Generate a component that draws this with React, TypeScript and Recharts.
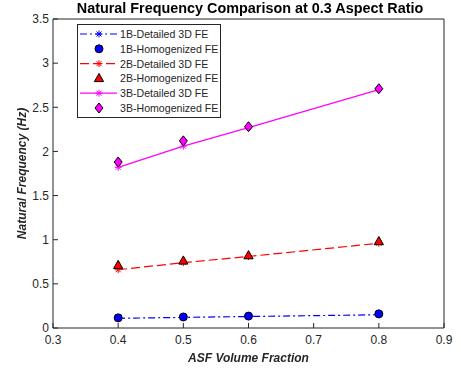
import React from 'react';
import { ComposedChart, Line, XAxis, YAxis } from 'recharts';

// ASF volume fractions where the models were run
const fractions = [0.4, 0.5, 0.6, 0.8];

// natural frequencies in Hz
const detailed1B = [0.11, 0.12, 0.13, 0.15];
const homog1B = [0.115, 0.125, 0.135, 0.16];
const detailed2B = [0.66, 0.74, 0.81, 0.96];
const homog2B = [0.71, 0.76, 0.82, 0.98];
const detailed3B = [1.82, 2.06, 2.27, 2.7];
const homog3B = [1.88, 2.12, 2.28, 2.71];

const xTicks = [0.3, 0.4, 0.5, 0.6, 0.7, 0.8, 0.9];
const yTicks = [0, 0.5, 1, 1.5, 2, 2.5, 3, 3.5];

const legendNames = [
  '1B-Detailed 3D FE',
  '1B-Homogenized FE',
  '2B-Detailed 3D FE',
  '2B-Homogenized FE',
  '3B-Detailed 3D FE',
  '3B-Homogenized FE',
];

const rows = fractions.map((x, i) => ({
  x,
  d1: detailed1B[i],
  h1: homog1B[i],
  d2: detailed2B[i],
  h2: homog2B[i],
  d3: detailed3B[i],
  h3: homog3B[i],
}));

const AXIS = '#262626';
const FONT = '"Liberation Sans", Arial, Helvetica, sans-serif';

// marker shapes, MATLAB style
const Asterisk = ({ cx, cy, color }: any) => (
  <g stroke={color} strokeWidth={1}>
    <line x1={cx - 3.5} y1={cy} x2={cx + 3.5} y2={cy} />
    <line x1={cx} y1={cy - 3.5} x2={cx} y2={cy + 3.5} />
    <line x1={cx - 2.5} y1={cy - 2.5} x2={cx + 2.5} y2={cy + 2.5} />
    <line x1={cx - 2.5} y1={cy + 2.5} x2={cx + 2.5} y2={cy - 2.5} />
  </g>
);

const Circle = ({ cx, cy }: any) => (
  <circle cx={cx} cy={cy} r={4} fill="#0000ff" stroke="#000" strokeWidth={1} />
);

const Triangle = ({ cx, cy }: any) => (
  <polygon
    points={`${cx},${cy - 5} ${cx + 4.6},${cy + 3.2} ${cx - 4.6},${cy + 3.2}`}
    fill="#ff0000"
    stroke="#000"
    strokeWidth={1}
  />
);

const Diamond = ({ cx, cy }: any) => (
  <polygon
    points={`${cx},${cy - 5} ${cx + 4},${cy} ${cx},${cy + 5} ${cx - 4},${cy}`}
    fill="#ff00ff"
    stroke="#000"
    strokeWidth={1}
  />
);

const dotOf = (Shape: any, color?: string) => (p: any) =>
  <Shape key={`${p.dataKey}-${p.index}`} cx={p.cx} cy={p.cy} color={color} />;

const legendItems = [
  { line: '#0000ff', dash: '7 3 2 3', Shape: Asterisk, color: '#0000ff' },
  { line: null, dash: '', Shape: Circle, color: '' },
  { line: '#ff0000', dash: '9 4', Shape: Asterisk, color: '#ff0000' },
  { line: null, dash: '', Shape: Triangle, color: '' },
  { line: '#ff00ff', dash: '', Shape: Asterisk, color: '#ff00ff' },
  { line: null, dash: '', Shape: Diamond, color: '' },
];

function ChartLegend() {
  const rowH = 14.8;
  return (
    <svg
      width={144}
      height={94}
      style={{ position: 'absolute', left: 77, top: 24 }}
    >
      <rect x={0.5} y={0.5} width={143} height={93} fill="#fff" stroke={AXIS} strokeWidth={1} />
      {legendItems.map((it, i) => {
        const cy = 10 + i * rowH;
        return (
          <g key={i}>
            {it.line && (
              <line
                x1={3}
                x2={40}
                y1={cy}
                y2={cy}
                stroke={it.line}
                strokeWidth={1.2}
                strokeDasharray={it.dash || undefined}
              />
            )}
            <it.Shape cx={22} cy={cy} color={it.color} />
            <text x={43} y={cy + 4} fontSize={10.6} fontFamily={FONT} fill={AXIS}>
              {legendNames[i]}
            </text>
          </g>
        );
      })}
    </svg>
  );
}

export default function App() {
  return (
    <div style={{ position: 'fixed', left: 0, top: 0, width: 461, height: 371, background: '#fff' }}>
      <ComposedChart
        width={461}
        height={371}
        data={rows}
        margin={{ top: 18, right: 16, bottom: 42, left: 52 }}
      >
        <XAxis
          dataKey="x"
          type="number"
          domain={[0.3, 0.9]}
          ticks={xTicks}
          interval={0}
          height={1}
          stroke={AXIS}
          tickSize={-5}
          tickMargin={12}
          tick={{ fill: AXIS, fontSize: 12, fontFamily: FONT }}
        />
        <XAxis
          xAxisId="top"
          orientation="top"
          dataKey="x"
          type="number"
          domain={[0.3, 0.9]}
          ticks={xTicks}
          interval={0}
          height={1}
          stroke={AXIS}
          tickSize={-5}
          tick={false}
        />
        <YAxis
          type="number"
          domain={[0, 3.5]}
          ticks={yTicks}
          interval={0}
          width={1}
          stroke={AXIS}
          tickSize={-5}
          tickMargin={9}
          tick={{ fill: AXIS, fontSize: 12, fontFamily: FONT }}
        />
        <YAxis
          yAxisId="right"
          orientation="right"
          type="number"
          domain={[0, 3.5]}
          ticks={yTicks}
          interval={0}
          width={1}
          stroke={AXIS}
          tickSize={-5}
          tick={false}
        />
        <Line
          dataKey="d1"
          stroke="#0000ff"
          strokeWidth={1.2}
          strokeDasharray="7 3 2 3"
          dot={dotOf(Asterisk, '#0000ff')}
          isAnimationActive={false}
        />
        <Line dataKey="h1" stroke="none" dot={dotOf(Circle)} isAnimationActive={false} />
        <Line
          dataKey="d2"
          stroke="#ff0000"
          strokeWidth={1.2}
          strokeDasharray="9 4"
          dot={dotOf(Asterisk, '#ff0000')}
          isAnimationActive={false}
        />
        <Line dataKey="h2" stroke="none" dot={dotOf(Triangle)} isAnimationActive={false} />
        <Line
          dataKey="d3"
          stroke="#ff00ff"
          strokeWidth={1.2}
          dot={dotOf(Asterisk, '#ff00ff')}
          isAnimationActive={false}
        />
        <Line dataKey="h3" stroke="none" dot={dotOf(Diamond)} isAnimationActive={false} />
      </ComposedChart>

      <div
        style={{
          position: 'absolute',
          left: 0,
          width: 500,
          top: 0,
          textAlign: 'center',
          fontFamily: FONT,
          fontWeight: 'bold',
          fontSize: 14.4,
          color: '#000',
          lineHeight: '16px',
        }}
      >
        Natural Frequency Comparison at 0.3 Aspect Ratio
      </div>

      <div
        style={{
          position: 'absolute',
          left: 0,
          width: 497,
          top: 351,
          textAlign: 'center',
          fontFamily: FONT,
          fontWeight: 'bold',
          fontStyle: 'italic',
          fontSize: 12,
          color: AXIS,
          lineHeight: '14px',
        }}
      >
        ASF Volume Fraction
      </div>

      <svg width={40} height={371} style={{ position: 'absolute', left: 0, top: 0 }}>
        <text
          x={26}
          y={173.5}
          transform="rotate(-90 26 173.5)"
          textAnchor="middle"
          fontFamily={FONT}
          fontWeight="bold"
          fontStyle="italic"
          fontSize={12}
          fill={AXIS}
        >
          Natural Frequency (Hz)
        </text>
      </svg>

      <ChartLegend />
    </div>
  );
}
